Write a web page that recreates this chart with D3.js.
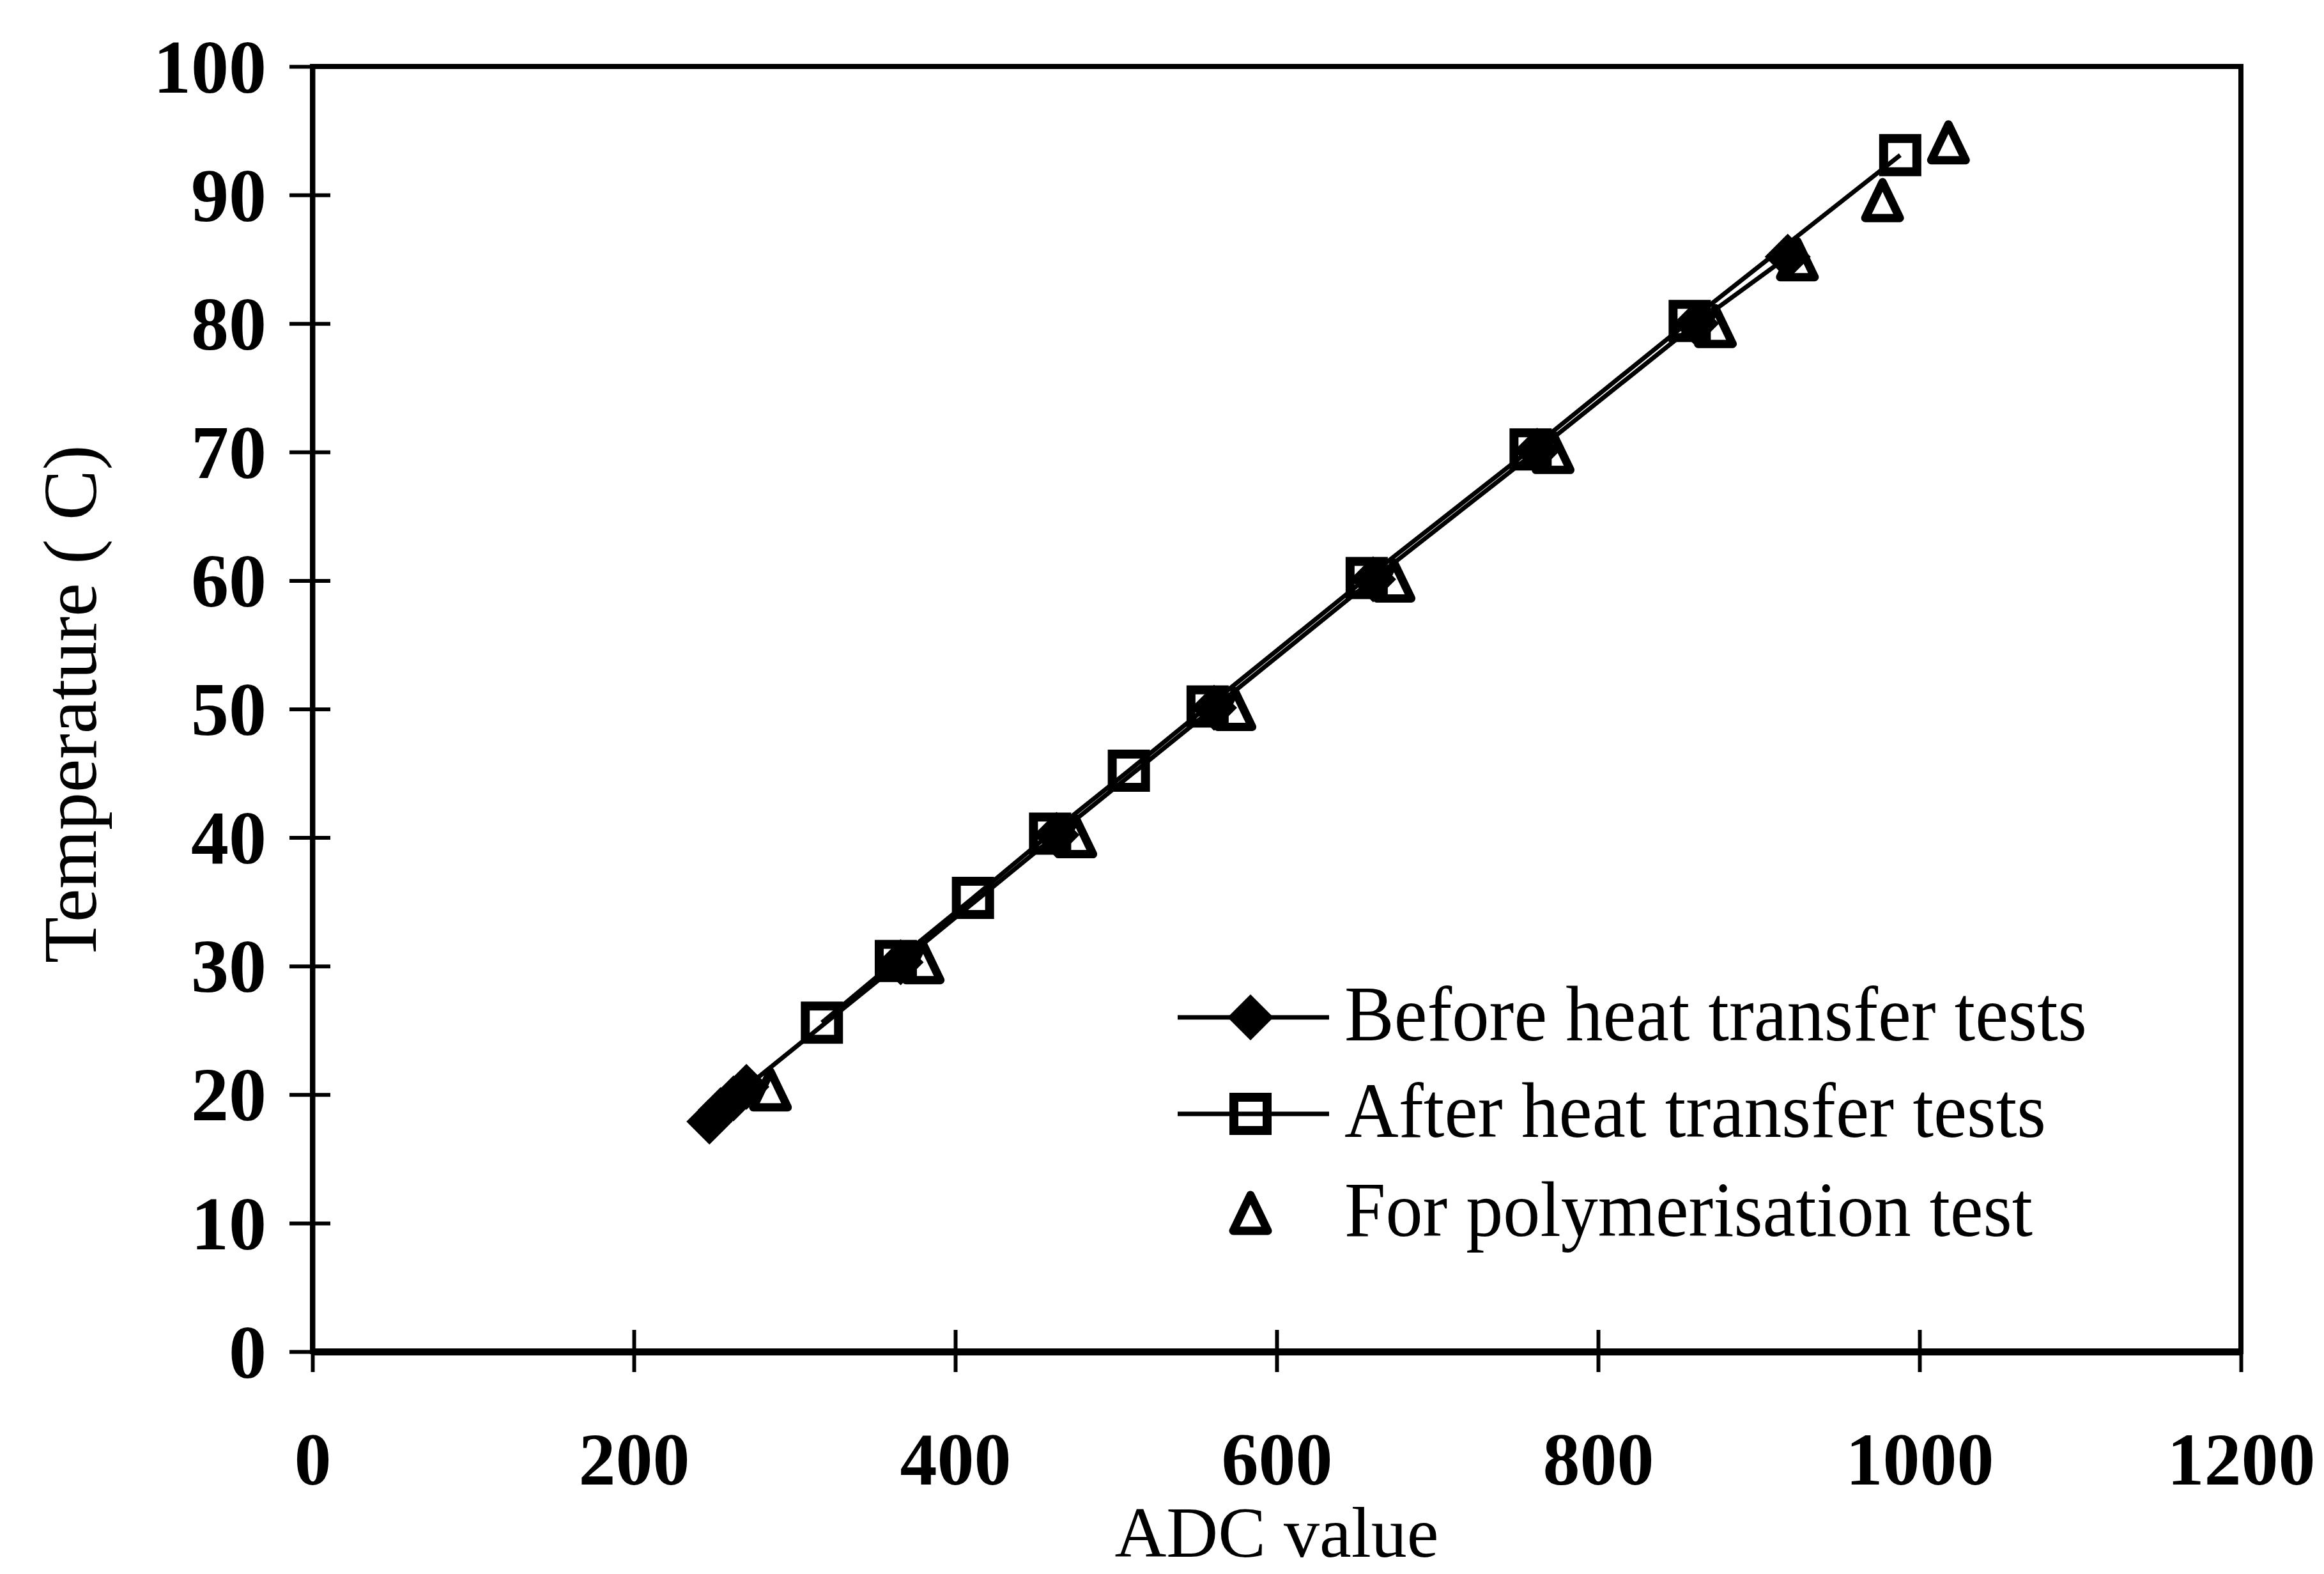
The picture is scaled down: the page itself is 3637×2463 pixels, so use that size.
<!DOCTYPE html>
<html>
<head>
<meta charset="utf-8">
<script src="https://cdn.jsdelivr.net/npm/d3@7"></script>
<style>
    html, body { margin: 0; padding: 0; background: #fff; }
    svg text { font-family: "Liberation Serif", "Times New Roman", serif; fill: #000; }
</style>
</head>
<body>
<svg id="chart" width="3637" height="2463"></svg>
<script>
// before heat transfer tests (filled diamonds, joined)
var beforeADC  = [247, 254, 262, 270, 366, 463, 561, 660, 762, 861, 918];
var beforeTemp = [17.9, 18.8, 19.7, 20.6, 30.3, 40.2, 50.1, 60.1, 70.1, 80.0, 85.2];

// after heat transfer tests (open squares, joined)
var afterADC  = [317, 363, 411, 459, 508, 557, 656, 758, 857, 988];
var afterTemp = [25.6, 30.4, 35.3, 40.3, 45.2, 50.2, 60.2, 70.2, 80.2, 93.1];

// polymerisation test (open triangles, no line)
var polyADC  = [285, 380, 475, 574, 673, 772, 873, 924, 977, 1018];
var polyTemp = [20.4, 30.3, 40.1, 50.0, 60.0, 70.0, 79.8, 85.0, 89.6, 94.1];

var xTicks = [0, 200, 400, 600, 800, 1000, 1200];
var yTicks = [0, 10, 20, 30, 40, 50, 60, 70, 80, 90, 100];

var seriesNames = ["Before heat transfer tests", "After heat transfer tests", "For polymerisation test"];

var margin = {top: 104, right: 130, bottom: 348, left: 489};
var W = 3637, H = 2463;
var width = W - margin.left - margin.right,
    height = H - margin.top - margin.bottom;

var svg = d3.select("#chart");
var g = svg.append("g").attr("transform", "translate(" + margin.left + "," + margin.top + ")");

var x = d3.scaleLinear().domain([0, 1200]).range([0, width]);
var y = d3.scaleLinear().domain([0, 100]).range([height, 0]);

function zip(a, b) {
    return a.map(function(d, i) { return {x: d, y: b[i]}; });
}
var before = zip(beforeADC, beforeTemp),
    after = zip(afterADC, afterTemp),
    poly = zip(polyADC, polyTemp);

function markerPath(type) {
    if (type == "diamond") return "M0,-36L36,0L0,36L-36,0Z";
    if (type == "square") return "M-26,-26L26,-26L26,26L-26,26Z";
    return "M0,-28L27,28L-27,28Z";
}
function styleMarker(sel, type) {
    if (type == "diamond") {
        sel.attr("fill", "#000").attr("stroke", "none");
    } else {
        sel.attr("fill", "none").attr("stroke", "#000")
            .attr("stroke-width", type == "square" ? 14 : 13)
            .attr("stroke-linejoin", type == "square" ? "miter" : "round");
    }
}

// frame
g.append("rect")
    .attr("x", 0).attr("y", 0)
    .attr("width", width).attr("height", height)
    .attr("fill", "none").attr("stroke", "#000").attr("stroke-width", 8);

// x axis
var xAxis = g.append("g")
    .attr("transform", "translate(0," + height + ")")
    .call(d3.axisBottom(x).tickValues(xTicks).tickSizeOuter(0).tickFormat(d3.format("d")));
xAxis.select(".domain").attr("stroke", "#000").attr("stroke-width", 11);
xAxis.selectAll(".tick line").attr("y1", -34).attr("y2", 32).attr("stroke", "#000").attr("stroke-width", 6);
xAxis.selectAll(".tick text")
    .attr("y", 208).attr("dy", null)
    .attr("font-size", 116).attr("font-weight", "bold")
    .attr("font-family", "Liberation Serif, serif");

// y axis
var yAxis = g.append("g")
    .call(d3.axisLeft(y).tickValues(yTicks).tickSizeOuter(0).tickFormat(d3.format("d")));
yAxis.select(".domain").attr("stroke", "#000").attr("stroke-width", 8);
yAxis.selectAll(".tick line").attr("x1", -36).attr("x2", 28).attr("stroke", "#000").attr("stroke-width", 6);
yAxis.selectAll(".tick text")
    .attr("x", -72).attr("dy", "0.34em")
    .attr("font-size", 118).attr("font-weight", "bold")
    .attr("font-family", "Liberation Serif, serif");

// axis titles
g.append("text")
    .attr("x", width / 2).attr("y", height + 321)
    .attr("text-anchor", "middle")
    .attr("font-size", 112)
    .text("ADC value");

svg.append("text")
    .attr("transform", "translate(150," + (margin.top + height / 2 - 8) + ") rotate(-90)")
    .attr("text-anchor", "middle")
    .attr("font-size", 118)
    .text("Temperature ( C)");

// lines
var line = d3.line().x(function(d) { return x(d.x); }).y(function(d) { return y(d.y); });

g.append("path").datum(before)
    .attr("d", line).attr("fill", "none").attr("stroke", "#000").attr("stroke-width", 7);
g.append("path").datum(after)
    .attr("d", line).attr("fill", "none").attr("stroke", "#000").attr("stroke-width", 7);

// markers
function drawMarkers(data, type) {
    g.append("g").selectAll("path").data(data).enter().append("path")
        .attr("transform", function(d) { return "translate(" + x(d.x) + "," + y(d.y) + ")"; })
        .attr("d", markerPath(type))
        .call(styleMarker, type);
}
drawMarkers(before, "diamond");
drawMarkers(after, "square");
drawMarkers(poly, "triangle");

// legend
var legendRows = [
    {name: seriesNames[0], type: "diamond", line: true, y: 1592, len: 1162},
    {name: seriesNames[1], type: "square", line: true, y: 1743, len: 1098},
    {name: seriesNames[2], type: "triangle", line: false, y: 1898, len: 1077}
];
var legend = svg.append("g");
legendRows.forEach(function(r) {
    if (r.line) {
        legend.append("line")
            .attr("x1", 1843).attr("x2", 2080).attr("y1", r.y).attr("y2", r.y)
            .attr("stroke", "#000").attr("stroke-width", 7);
    }
    legend.append("path")
        .attr("transform", "translate(1957," + r.y + ")")
        .attr("d", markerPath(r.type))
        .call(styleMarker, r.type);
    legend.append("text")
        .attr("x", 2104).attr("y", r.y + 36)
        .attr("font-size", 122)
        .attr("textLength", r.len)
        .attr("lengthAdjust", "spacingAndGlyphs")
        .text(r.name);
});
</script>
</body>
</html>
